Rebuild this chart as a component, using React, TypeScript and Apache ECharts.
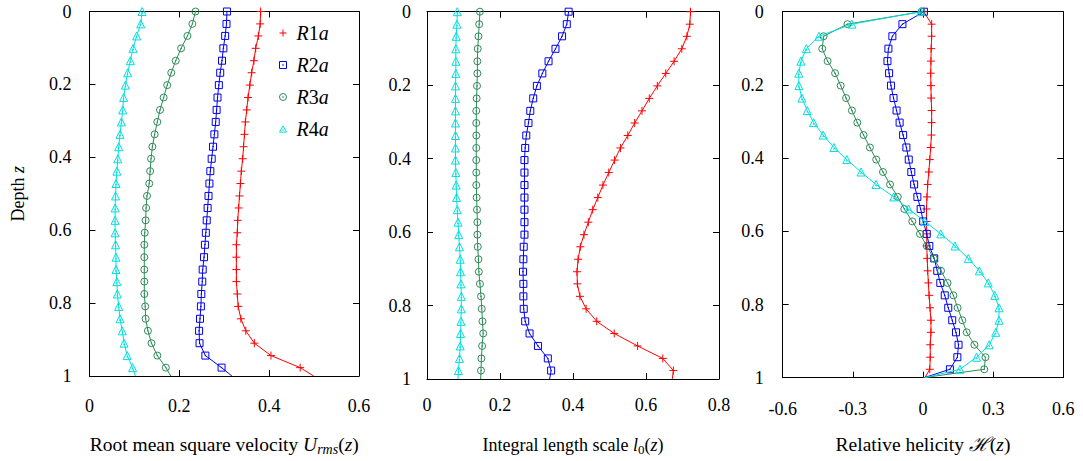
import React, { useEffect, useRef } from 'react';
import * as echarts from 'echarts';

// Depth positions of the profile samples (0 = top, 1 = bottom)
const depth = [0, 0.034, 0.067, 0.101, 0.135, 0.168, 0.202, 0.236, 0.27, 0.303, 0.337, 0.371, 0.404, 0.438, 0.472, 0.506, 0.539, 0.573, 0.607, 0.64, 0.674, 0.708, 0.741, 0.775, 0.809, 0.843, 0.876, 0.91, 0.944, 0.977, 1.0];

const seriesNames = ['R1a', 'R2a', 'R3a', 'R4a'];

// Panel 1: root mean square velocity
const urmsR1a = [0.381, 0.380, 0.376, 0.370, 0.366, 0.361, 0.357, 0.353, 0.350, 0.347, 0.345, 0.343, 0.341, 0.338, 0.336, 0.334, 0.332, 0.330, 0.329, 0.327, 0.327, 0.327, 0.327, 0.329, 0.331, 0.337, 0.348, 0.367, 0.404, 0.469, 0.499];
const urmsR2a = [0.306, 0.305, 0.302, 0.298, 0.295, 0.291, 0.288, 0.285, 0.283, 0.281, 0.278, 0.275, 0.272, 0.269, 0.267, 0.265, 0.263, 0.261, 0.259, 0.257, 0.255, 0.252, 0.251, 0.249, 0.248, 0.246, 0.244, 0.245, 0.258, 0.294, 0.317];
const urmsR3a = [0.236, 0.229, 0.218, 0.204, 0.192, 0.182, 0.173, 0.165, 0.157, 0.151, 0.145, 0.140, 0.137, 0.135, 0.133, 0.128, 0.126, 0.125, 0.123, 0.122, 0.122, 0.122, 0.122, 0.122, 0.124, 0.125, 0.130, 0.138, 0.151, 0.170, 0.181];
const urmsR4a = [0.117, 0.114, 0.105, 0.097, 0.091, 0.085, 0.080, 0.076, 0.074, 0.071, 0.068, 0.065, 0.063, 0.061, 0.059, 0.058, 0.057, 0.057, 0.057, 0.058, 0.059, 0.059, 0.061, 0.062, 0.065, 0.068, 0.073, 0.077, 0.084, 0.096, 0.102];

// Panel 2: integral length scale
const l0R1a = [0.722, 0.720, 0.712, 0.698, 0.677, 0.654, 0.631, 0.609, 0.589, 0.569, 0.550, 0.530, 0.514, 0.498, 0.482, 0.468, 0.454, 0.442, 0.430, 0.420, 0.414, 0.411, 0.412, 0.419, 0.436, 0.465, 0.513, 0.577, 0.646, 0.675, 0.672];
const l0R2a = [0.388, 0.383, 0.370, 0.352, 0.333, 0.316, 0.301, 0.291, 0.283, 0.278, 0.272, 0.269, 0.267, 0.267, 0.267, 0.267, 0.267, 0.267, 0.267, 0.265, 0.264, 0.263, 0.264, 0.264, 0.265, 0.269, 0.281, 0.304, 0.331, 0.340, 0.336];
const l0R3a = [0.145, 0.143, 0.141, 0.139, 0.138, 0.138, 0.137, 0.136, 0.135, 0.135, 0.135, 0.135, 0.135, 0.135, 0.135, 0.136, 0.137, 0.138, 0.138, 0.139, 0.141, 0.142, 0.145, 0.148, 0.150, 0.152, 0.154, 0.151, 0.149, 0.148, 0.147];
const l0R4a = [0.083, 0.082, 0.080, 0.079, 0.079, 0.079, 0.078, 0.078, 0.078, 0.078, 0.078, 0.078, 0.078, 0.079, 0.080, 0.081, 0.083, 0.085, 0.087, 0.089, 0.091, 0.092, 0.093, 0.094, 0.094, 0.093, 0.092, 0.091, 0.089, 0.086, 0.085];

// Panel 3: relative helicity
const helR1a = [0.003, 0.037, 0.037, 0.035, 0.034, 0.033, 0.034, 0.035, 0.037, 0.037, 0.036, 0.033, 0.029, 0.025, 0.020, 0.017, 0.015, 0.015, 0.016, 0.016, 0.018, 0.020, 0.023, 0.026, 0.030, 0.034, 0.034, 0.031, 0.031, 0.029, 0.008];
const helR2a = [0.004, -0.088, -0.131, -0.148, -0.152, -0.145, -0.137, -0.126, -0.113, -0.100, -0.085, -0.071, -0.061, -0.050, -0.038, -0.024, -0.010, 0.001, 0.016, 0.027, 0.048, 0.061, 0.074, 0.093, 0.108, 0.125, 0.141, 0.152, 0.147, 0.115, 0.005];
const helR3a = [-0.006, -0.323, -0.425, -0.431, -0.408, -0.376, -0.352, -0.329, -0.304, -0.281, -0.254, -0.227, -0.200, -0.171, -0.141, -0.108, -0.080, -0.046, -0.013, 0.016, 0.046, 0.077, 0.105, 0.130, 0.148, 0.168, 0.187, 0.220, 0.267, 0.262, 0.001];
const helR4a = [-0.010, -0.304, -0.445, -0.499, -0.522, -0.531, -0.531, -0.518, -0.495, -0.468, -0.427, -0.381, -0.326, -0.265, -0.201, -0.125, -0.062, 0.008, 0.076, 0.137, 0.194, 0.241, 0.279, 0.307, 0.325, 0.325, 0.311, 0.283, 0.229, 0.158, 0.009];

// Tick values
const depthTicks = [0, 0.2, 0.4, 0.6, 0.8, 1];
const urmsTicks = [0, 0.2, 0.4, 0.6];
const l0Ticks = [0, 0.2, 0.4, 0.6, 0.8];
const helTicks = [-0.6, -0.3, 0, 0.3, 0.6];

const FONT = 'Liberation Serif, Times New Roman, Times, serif';
const colors = ['#ff0000', '#0000ee', '#2e8b57', '#00dede'];
const symbols = [
  'path://M5,0 L5,10 M0,5 L10,5',
  'path://M0,0 L10,0 L10,10 L0,10 Z M4.6,4.6 L5.4,4.6 L5.4,5.4 L4.6,5.4 Z',
  'path://M0,5 A5,5 0 1,1 10,5 A5,5 0 1,1 0,5 Z M4.6,4.6 L5.4,4.6 L5.4,5.4 L4.6,5.4 Z',
  'path://M5,0 L10,9 L0,9 Z M4.6,5.6 L5.4,5.6 L5.4,6.4 L4.6,6.4 Z',
];
const symbolSizes = [8, 7, 7, 8];

const fmt = (v: number) => String(Number(v.toFixed(3)));
const step = (t: number[]) => Number((t[1] - t[0]).toFixed(6));

const richBase = (size: number) => ({
  it: { fontStyle: 'italic', fontFamily: FONT, fontSize: size, color: '#000' },
  sub: { fontStyle: 'italic', fontFamily: FONT, fontSize: Math.round(size * 0.7), color: '#000', padding: [9, 0, 0, 0] },
  sub0: { fontFamily: FONT, fontSize: Math.round(size * 0.7), color: '#000', padding: [9, 0, 0, 0] },
});

const panels = [
  {
    values: [urmsR1a, urmsR2a, urmsR3a, urmsR4a],
    ticks: urmsTicks,
    grid: { left: 89.5, top: 11.5, width: 269.5, height: 366.5 },
    name: 'Root mean square velocity {it|U}{sub|rms}({it|z})',
    nameSize: 19.5, nameGap: 57, labelMargin: 21, yLabelMargin: 18, yName: true,
  },
  {
    values: [l0R1a, l0R2a, l0R3a, l0R4a],
    ticks: l0Ticks,
    grid: { left: 427, top: 11.7, width: 292, height: 369 },
    name: 'Integral length scale {it|l}{sub0|0}({it|z})',
    nameSize: 18, nameGap: 55, labelMargin: 17, yLabelMargin: 16, yName: false,
  },
  {
    values: [helR1a, helR2a, helR3a, helR4a],
    ticks: helTicks,
    grid: { left: 782.7, top: 11.7, width: 280.6, height: 366 },
    name: 'Relative helicity {it|ℋ}({it|z})',
    nameSize: 19.5, nameGap: 57, labelMargin: 22, yLabelMargin: 19, yName: false,
  },
];

function baseAxis(gridIndex: number, ticks: number[]) {
  return {
    type: 'value',
    gridIndex,
    min: ticks[0],
    max: ticks[ticks.length - 1],
    interval: step(ticks),
    axisLine: { show: true, onZero: false, lineStyle: { color: '#000', width: 1 } },
    axisTick: { show: true, inside: true, length: 6, lineStyle: { color: '#000', width: 1 } },
    splitLine: { show: false },
  };
}

export default function App() {
  const ref = useRef<HTMLDivElement>(null);

  useEffect(() => {
    if (!ref.current) return;
    const chart = echarts.init(ref.current, undefined, { renderer: 'svg' });

    const grids: any[] = [];
    const xAxes: any[] = [];
    const yAxes: any[] = [];
    const series: any[] = [];

    panels.forEach((p, pi) => {
      grids.push({ ...p.grid, containLabel: false });
      xAxes.push({
        ...baseAxis(pi, p.ticks),
        position: 'bottom',
        axisLabel: { show: true, margin: p.labelMargin, fontFamily: FONT, fontSize: 18, color: '#000', formatter: fmt },
        name: p.name,
        nameLocation: 'middle',
        nameGap: p.nameGap,
        nameTextStyle: { fontFamily: FONT, fontSize: p.nameSize, color: '#000', rich: richBase(p.nameSize) },
      });
      xAxes.push({
        ...baseAxis(pi, p.ticks),
        position: 'top',
        axisLabel: { show: false },
      });
      yAxes.push({
        ...baseAxis(pi, depthTicks),
        inverse: true,
        position: 'left',
        axisLabel: { show: true, margin: p.yLabelMargin, fontFamily: FONT, fontSize: 18, color: '#000', formatter: fmt },
        ...(p.yName
          ? {
              name: 'Depth {it|z}',
              nameLocation: 'middle',
              nameRotate: 90,
              nameGap: 63,
              nameTextStyle: { fontFamily: FONT, fontSize: 18, color: '#000', rich: richBase(18) },
            }
          : {}),
      });
      yAxes.push({
        ...baseAxis(pi, depthTicks),
        inverse: true,
        position: 'right',
        axisLabel: { show: false },
      });

      p.values.forEach((vals, si) => {
        series.push({
          type: 'line',
          name: seriesNames[si],
          xAxisIndex: pi * 2,
          yAxisIndex: pi * 2,
          data: depth.map((z, i) =>
            i === depth.length - 1 ? { value: [vals[i], z], symbol: 'none' } : [vals[i], z]
          ),
          symbol: symbols[si],
          symbolSize: symbolSizes[si],
          showAllSymbol: true,
          lineStyle: { color: colors[si], width: 1 },
          itemStyle: { color: 'transparent', borderColor: colors[si], borderWidth: 1 },
          emphasis: { disabled: true },
          z: 2 + si,
        });
      });
    });

    chart.setOption({
      animation: false,
      backgroundColor: '#fff',
      grid: grids,
      xAxis: xAxes,
      yAxis: yAxes,
      series,
      legend: {
        orient: 'vertical',
        left: 274,
        top: 18,
        itemWidth: 7,
        itemHeight: 7,
        itemGap: 12,
        selectedMode: false,
        data: seriesNames.map((n, i) => ({
          name: n,
          icon: symbols[i],
          itemStyle: { color: 'transparent', borderColor: colors[i], borderWidth: 1 },
        })),
        formatter: (n: string) => `{sp|}{i|R}${n.slice(1, 2)}{i|a}`,
        textStyle: {
          fontFamily: FONT,
          fontSize: 20,
          color: '#000',
          lineHeight: 20,
          rich: {
            sp: { width: 5 },
            i: { fontStyle: 'italic', fontFamily: FONT, fontSize: 20, color: '#000' },
          },
        },
      },
    });

    return () => chart.dispose();
  }, []);

  return (
    <div
      ref={ref}
      style={{ position: 'absolute', left: 0, top: 0, width: 1083, height: 461, background: '#fff' }}
    />
  );
}
